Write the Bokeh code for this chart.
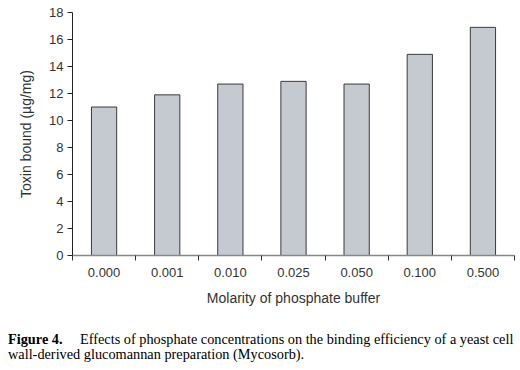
from bokeh.plotting import figure
from bokeh.models import Range1d, LinearAxis, FixedTicker, Title, Div, ColumnDataSource
from bokeh.layouts import column
from bokeh.embed import file_html
from bokeh.resources import INLINE

categories = ["0.000", "0.001", "0.010", "0.025", "0.050", "0.100", "0.500"]
toxin_bound = [11.0, 11.9, 12.7, 12.9, 12.7, 14.9, 16.9]
y_ticks = [0, 2, 4, 6, 8, 10, 12, 14, 16, 18]

x_title = "Molarity of phosphate buffer"
y_title = "Toxin bound (\u00b5g/mg)"
caption_bold = "Figure 4."
caption_line1 = "Effects of phosphate concentrations on the binding efficiency of a yeast cell"
caption_line2 = "wall-derived glucomannan preparation (Mycosorb)."

positions = list(range(len(categories)))
boundaries = [i - 0.5 for i in range(len(categories) + 1)]

W, H = 520, 312
p = figure(width=W, height=H, output_backend="svg", toolbar_location=None,
           x_range=Range1d(-0.5, len(categories) - 0.5), y_range=Range1d(0, 18),
           x_axis_type=None, y_axis_type=None,
           min_border_left=72, min_border_right=6, min_border_top=12,
           min_border_bottom=H - 255)
p.outline_line_color = None
p.xgrid.visible = False
p.ygrid.visible = False
p.background_fill_color = "white"
p.border_fill_color = "white"

src = ColumnDataSource(dict(x=positions, top=toxin_bound))
p.vbar(x="x", top="top", width=0.4, bottom=0, source=src,
       fill_color="#c5cad0", line_color="#3a3a3a", line_width=1)

font = "Liberation Sans"
tc = "#333333"

xaxis = LinearAxis(ticker=FixedTicker(ticks=positions, minor_ticks=boundaries),
                   major_label_overrides={i: c for i, c in zip(positions, categories)})
xaxis.axis_line_color = "#888888"
xaxis.axis_line_width = 1.5
xaxis.major_tick_line_color = None
xaxis.major_tick_out = 5
xaxis.major_tick_in = 0
xaxis.minor_tick_line_color = "#333333"
xaxis.minor_tick_out = 5
xaxis.minor_tick_in = 0
xaxis.major_label_standoff = 7
xaxis.major_label_text_font = font
xaxis.major_label_text_font_size = "13px"
xaxis.major_label_text_color = tc
xaxis.axis_label = x_title
xaxis.axis_label_text_font = font
xaxis.axis_label_text_font_size = "14px"
xaxis.axis_label_text_font_style = "normal"
xaxis.axis_label_text_color = tc
xaxis.axis_label_standoff = 10
p.add_layout(xaxis, "below")

yaxis = LinearAxis(ticker=FixedTicker(ticks=y_ticks))
yaxis.axis_line_color = "#222222"
yaxis.major_tick_line_color = "#222222"
yaxis.major_tick_out = 5
yaxis.major_tick_in = 0
yaxis.minor_tick_line_color = None
yaxis.major_label_standoff = 4
yaxis.major_label_text_font = font
yaxis.major_label_text_font_size = "13px"
yaxis.major_label_text_color = tc
p.add_layout(yaxis, "left")

ytitle = Title(text=y_title, align="center", offset=30, standoff=26,
               text_font=font, text_font_size="14px", text_font_style="normal",
               text_color=tc)
p.add_layout(ytitle, "left")

caption_html = (
    '<div style="white-space:nowrap">'
    '<span style="display:inline-block;width:72px;font-weight:bold">' + caption_bold + '</span>'
    + caption_line1 + '<br>' + caption_line2 + '</div>'
)
caption = Div(text=caption_html, width=512, height=34, margin=(20, 0, 0, 8),
              styles={"font-family": "Liberation Serif", "font-size": "14.3px",
                      "line-height": "15px", "color": "black"})

layout = column(p, caption, spacing=0)
open("out.html", "w").write(file_html(layout, INLINE))
